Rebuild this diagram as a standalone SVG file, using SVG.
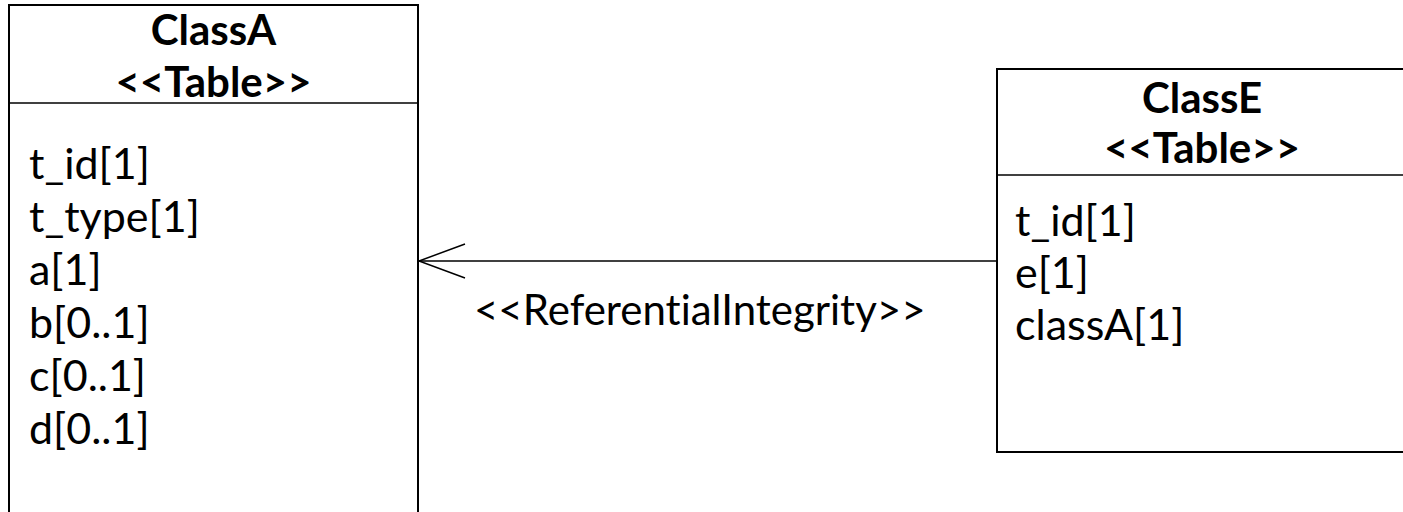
<svg xmlns="http://www.w3.org/2000/svg" width="1403" height="512" viewBox="0 0 1403 512">
<style>
.box{fill:#fff;stroke:#000;stroke-width:2}
.div{stroke:#000;stroke-width:1.5}
text{font-variant-ligatures:none;font-feature-settings:"liga" 0,"dlig" 0}
.hdr{font-family:Lato,"Liberation Sans",sans-serif;font-weight:bold;font-size:42px;fill:#000;text-anchor:middle}
.att{font-family:Lato,"Liberation Sans",sans-serif;font-size:43px;fill:#000}
.lbl{font-family:Lato,"Liberation Sans",sans-serif;font-size:42px;fill:#000}
.conn{stroke:#000;stroke-width:1.5;fill:none}
</style>
<rect width="1403" height="512" fill="#fff"/>
<g id="connectors">
<line class="conn" x1="997" y1="261" x2="419" y2="261"/>
<polyline class="conn" points="465,244 419,261 465,278"/>
<text class="lbl" x="474" y="325">&lt;&lt;ReferentialIntegrity&gt;&gt;</text>
</g>
<g id="ClassA">
<rect class="box" x="9" y="5" width="409" height="520"/>
<line class="div" x1="9" y1="103" x2="418" y2="103"/>
<text class="hdr" x="213.5" y="45">ClassA</text>
<text class="hdr" x="213.5" y="97">&lt;&lt;Table&gt;&gt;</text>
<text class="att" x="29" y="179">t_id[1]</text>
<text class="att" x="29" y="232">t_type[1]</text>
<text class="att" x="29" y="285">a[1]</text>
<text class="att" x="29" y="338">b[0..1]</text>
<text class="att" x="29" y="391">c[0..1]</text>
<text class="att" x="29" y="444">d[0..1]</text>
</g>
<g id="ClassE">
<rect class="box" x="997" y="69" width="420" height="383"/>
<line class="div" x1="997" y1="175" x2="1417" y2="175"/>
<text class="hdr" x="1202" y="113">ClassE</text>
<text class="hdr" x="1202" y="163">&lt;&lt;Table&gt;&gt;</text>
<text class="att" x="1015" y="236">t_id[1]</text>
<text class="att" x="1015" y="288">e[1]</text>
<text class="att" x="1015" y="340">classA[1]</text>
</g>
</svg>
